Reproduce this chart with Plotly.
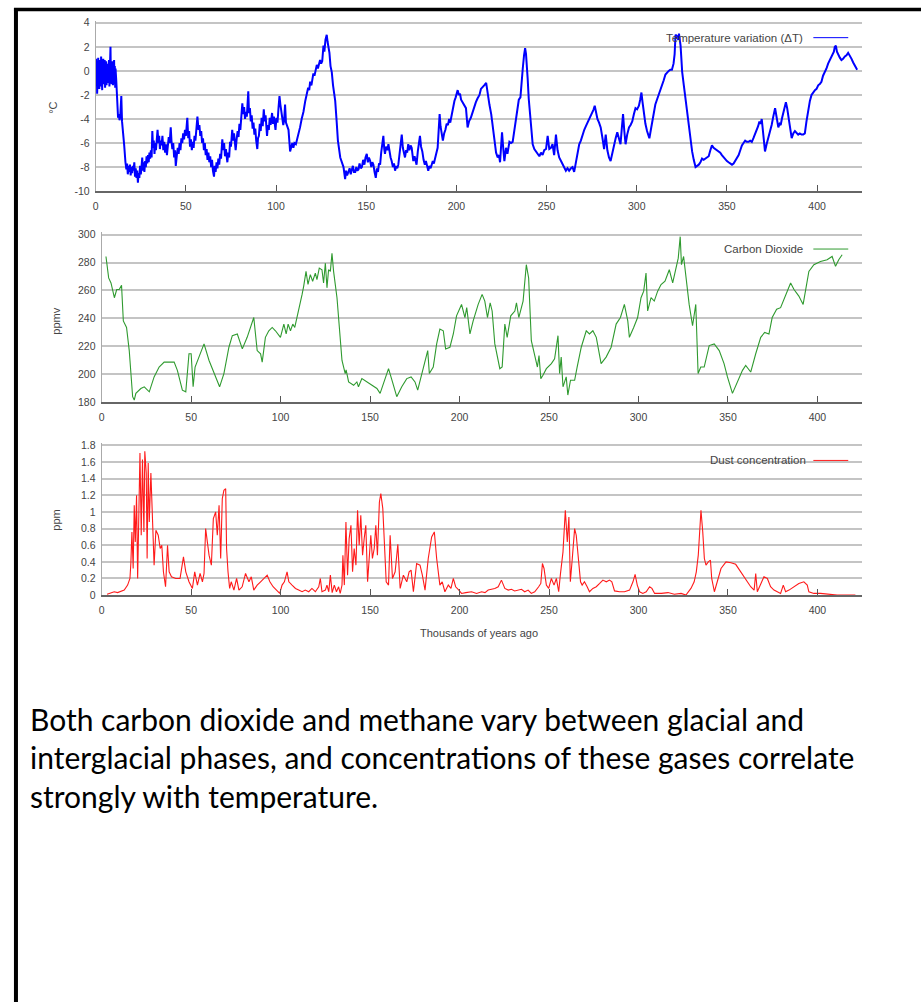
import plotly.graph_objects as go

# ---------------- data ----------------
temp_age = [
    0.0, 0.2, 0.4, 0.6, 0.8, 1.0, 1.2, 1.4, 1.6, 1.8,
    2.0, 2.2, 2.4, 2.6, 2.8, 3.0, 3.2, 3.4, 3.6, 3.8,
    4.0, 4.2, 4.4, 4.6, 4.8, 5.0, 5.2, 5.4, 5.6, 5.8,
    6.0, 6.2, 6.4, 6.6, 6.8, 7.0, 7.2, 7.4, 7.6, 7.8,
    8.0, 8.2, 8.4, 8.6, 8.8, 9.0, 9.2, 9.4, 9.6, 9.8,
    10.0, 10.2, 10.4, 10.6, 10.8, 11.0, 11.4, 12.0, 12.4, 12.8,
    13.2, 13.6, 14.2, 14.6, 15.2, 15.8, 16.5, 17.0, 17.4, 17.8,
    18.2, 18.6, 19.0, 19.4, 19.8, 20.2, 20.6, 21.0, 21.4, 21.8,
    22.2, 22.6, 23.0, 23.4, 23.8, 24.2, 24.6, 25.0, 25.4, 25.8,
    26.2, 26.6, 27.0, 27.4, 27.8, 28.2, 28.6, 29.0, 29.4, 29.8,
    30.2, 30.6, 31.0, 31.4, 31.8, 32.2, 32.6, 33.0, 33.4, 33.8,
    34.3, 34.8, 35.2, 35.6, 36.0, 36.5, 37.0, 37.5, 38.0, 38.5,
    39.0, 39.5, 40.0, 40.5, 41.0, 41.6, 42.0, 42.5, 43.0, 43.5,
    44.0, 44.4, 45.0, 45.5, 46.0, 46.5, 47.0, 47.5, 48.0, 48.5,
    49.0, 49.5, 50.0, 50.8, 51.3, 51.8, 52.3, 52.8, 53.3, 53.8,
    54.3, 54.8, 55.3, 55.8, 56.4, 57.0, 57.5, 58.0, 58.5, 59.0,
    59.5, 60.0, 60.5, 61.0, 61.5, 62.0, 62.5, 63.0, 63.5, 64.0,
    64.5, 65.0, 65.6, 66.0, 66.5, 67.0, 67.5, 68.0, 68.5, 69.0,
    69.5, 70.2, 70.7, 71.2, 71.7, 72.2, 73.0, 73.5, 74.0, 74.5,
    75.0, 75.7, 76.2, 76.7, 77.2, 77.6, 78.2, 78.7, 79.2, 79.7,
    80.2, 80.7, 81.3, 81.8, 82.3, 82.8, 83.3, 83.8, 84.2, 84.6,
    85.0, 85.5, 86.0, 86.5, 87.0, 87.5, 88.0, 88.5, 89.0, 89.6,
    90.0, 90.5, 91.0, 91.5, 92.0, 92.6, 93.2, 93.7, 94.2, 94.6,
    95.0, 95.5, 96.0, 96.5, 97.0, 97.8, 98.3, 98.8, 99.3, 99.7,
    100.2, 100.8, 101.4, 101.9, 102.4, 103.0, 103.4, 104.0, 104.5, 105.0,
    105.5, 106.2, 106.9, 107.8, 108.5, 109.0, 109.6, 110.2, 111.0, 111.5,
    112.4, 113.3, 114.2, 115.2, 116.2, 117.0, 117.8, 118.4, 118.9, 119.6,
    120.2, 120.7, 121.3, 121.8, 122.6, 123.2, 123.8, 124.4, 125.0, 125.6,
    126.3, 126.8, 127.4, 128.1, 128.6, 129.1, 129.6, 130.2, 130.9, 131.6,
    132.8, 133.6, 134.3, 135.6, 136.5, 137.4, 138.3, 138.8, 139.4, 140.2,
    140.8, 141.4, 142.0, 142.6, 143.2, 143.9, 144.5, 145.1, 145.7, 146.3,
    147.0, 147.6, 148.3, 149.0, 149.6, 150.3, 150.9, 151.5, 152.2, 152.8,
    153.4, 154.0, 154.6, 155.3, 155.9, 156.5, 157.1, 157.7, 158.3, 158.9,
    159.5, 160.0, 160.4, 161.0, 161.7, 162.3, 162.9, 163.5, 164.1, 164.8,
    165.4, 166.0, 166.6, 167.2, 167.8, 168.4, 169.0, 169.7, 170.3, 170.9,
    171.5, 172.1, 172.7, 173.3, 173.9, 174.6, 175.2, 175.7, 176.1, 176.8,
    177.4, 177.9, 178.6, 179.2, 179.8, 180.4, 181.1, 181.8, 182.5, 183.1,
    183.8, 184.4, 185.0, 185.7, 186.3, 186.9, 187.5, 188.1, 188.8, 189.6,
    190.2, 190.7, 191.2, 191.8, 192.5, 193.2, 193.9, 194.6, 195.3, 196.0,
    196.6, 197.1, 197.8, 198.3, 198.9, 199.6, 200.2, 200.7, 201.4, 202.0,
    202.6, 203.4, 204.4, 205.3, 206.2, 207.0, 208.0, 209.0, 209.9, 210.8,
    211.7, 212.8, 213.6, 214.5, 215.4, 216.5, 217.4, 218.3, 219.3, 220.2,
    221.1, 222.0, 222.9, 223.6, 224.2, 225.3, 226.0, 226.6, 227.5, 228.3,
    229.4, 230.3, 231.2, 232.2, 233.1, 234.0, 234.6, 235.5, 236.2, 236.8,
    237.5, 238.1, 238.6, 239.0, 239.5, 240.1, 240.8, 241.4, 242.3, 243.2,
    244.2, 245.1, 246.0, 246.9, 247.8, 248.7, 249.7, 250.6, 251.5, 252.4,
    253.3, 254.2, 255.2, 256.1, 257.0, 258.0, 258.9, 259.8, 260.7, 261.6,
    262.5, 263.5, 264.4, 265.3, 266.3, 267.2, 268.1, 269.0, 269.9, 270.9,
    271.8, 272.7, 273.6, 274.6, 275.5, 276.1, 276.7, 277.4, 278.2, 279.1,
    280.0, 281.0, 281.9, 282.4, 282.8, 283.7, 284.6, 285.5, 286.4, 287.4,
    288.3, 289.2, 290.1, 291.0, 291.7, 292.4, 293.1, 293.8, 294.7, 295.7,
    296.6, 297.5, 298.4, 299.3, 300.2, 301.2, 301.9, 302.6, 303.2, 303.9,
    304.8, 305.7, 306.3, 307.0, 307.7, 308.5, 309.4, 310.3, 311.2, 312.2,
    313.1, 314.0, 314.9, 315.9, 316.8, 317.7, 318.6, 319.5, 320.4, 321.0,
    321.5, 322.3, 323.0, 323.4, 324.3, 325.2, 326.1, 327.0, 328.0, 328.9,
    329.8, 330.7, 331.6, 332.6, 333.5, 334.4, 335.3, 336.2, 337.1, 338.0,
    339.0, 339.9, 340.8, 341.7, 342.6, 343.6, 344.5, 345.4, 346.3, 347.2,
    348.2, 349.1, 350.0, 350.9, 351.8, 352.8, 353.7, 354.6, 355.5, 356.5,
    357.4, 358.3, 359.2, 360.1, 361.0, 362.0, 362.9, 363.8, 364.7, 365.6,
    366.5, 367.3, 368.0, 368.7, 369.3, 370.2, 371.1, 372.0, 373.0, 373.9,
    374.8, 375.7, 376.7, 377.6, 378.5, 379.2, 379.8, 380.6, 381.3, 382.0,
    382.7, 383.4, 384.0, 384.9, 385.9, 386.8, 387.7, 388.6, 389.5, 390.4,
    391.4, 392.3, 393.2, 394.1, 395.1, 396.0, 396.9, 397.8, 398.8, 399.7,
    400.6, 401.5, 402.4, 403.3, 404.3, 405.2, 406.1, 407.0, 407.4, 408.3,
    409.3, 409.8, 410.4, 411.0, 411.7, 412.6, 413.5, 414.4, 415.4, 416.3,
    417.2, 418.1, 419.1, 420.0, 420.9, 421.6, 422.2,
]
temp_dT = [
    -0.2, 1.0, -1.2, 0.5, -1.9, 0.3, -0.8, 1.1, -1.0, 0.2,
    -1.5, 0.9, -0.6, 0.4, -1.3, 1.2, -0.9, 0.1, -1.6, 0.7,
    -0.4, 1.0, -1.1, 0.3, -0.8, 0.9, -1.4, 0.2, -0.5, 0.8,
    -1.2, 0.5, -0.9, 0.6, -1.0, 0.4, -0.6, 0.9, -1.3, 0.7,
    -0.2, 2.0, -0.4, 0.6, -1.1, 0.5, -0.7, 0.8, -1.2, 0.3,
    -0.6, 0.9, -0.9, 0.4, -1.4, 0.2, -0.8, -2.3, -3.9, -3.6,
    -4.1, -3.8, -2.1, -4.2, -5.0, -6.2, -7.6, -8.2, -7.7, -8.6,
    -7.9, -8.4, -7.8, -8.7, -8.0, -8.5, -7.9, -8.3, -7.6, -8.8,
    -8.1, -8.9, -8.3, -9.3, -8.5, -8.9, -7.9, -8.6, -8.0, -7.2,
    -8.3, -7.6, -8.4, -7.5, -8.0, -7.1, -7.7, -7.0, -7.6, -6.8,
    -7.3, -6.6, -7.2, -5.0, -6.4, -5.8, -6.9, -6.0, -6.6, -5.6,
    -4.9, -6.0, -5.4, -6.5, -5.8, -6.2, -5.4, -6.6, -5.9, -6.8,
    -6.1, -7.0, -6.3, -5.5, -6.0, -4.7, -5.8, -6.5, -6.0, -7.2,
    -6.6, -7.9, -7.0, -6.4, -6.9, -6.0, -6.6, -5.6, -6.0, -5.2,
    -5.7, -4.9, -5.4, -3.9, -5.6, -5.0, -6.3, -5.7, -6.6, -5.9,
    -6.4, -5.4, -5.8, -4.6, -3.8, -4.9, -4.5, -5.4, -5.0, -6.0,
    -5.6, -6.6, -6.0, -7.0, -6.5, -7.4, -6.8, -7.6, -7.1, -8.0,
    -7.4, -8.3, -8.8, -7.9, -8.4, -7.6, -8.1, -7.3, -7.8, -6.9,
    -7.3, -5.7, -6.6, -6.0, -7.1, -6.5, -7.6, -6.8, -7.2, -5.9,
    -6.3, -4.9, -5.8, -5.2, -6.4, -6.6, -5.6, -5.0, -5.5, -4.4,
    -4.9, -3.8, -2.7, -3.6, -3.0, -4.0, -3.4, -3.8, -3.0, -1.7,
    -3.5, -3.1, -4.2, -3.7, -4.8, -4.3, -5.3, -4.8, -5.8, -6.5,
    -5.6, -5.4, -4.4, -5.0, -3.9, -4.6, -3.2, -4.2, -3.7, -5.0,
    -5.4, -4.5, -4.9, -3.9, -4.5, -3.5, -4.4, -3.8, -4.8, -4.9,
    -3.9, -4.3, -3.0, -2.1, -2.8, -3.6, -4.0, -4.5, -4.1, -2.8,
    -4.3, -4.6, -4.9, -6.7, -6.3, -6.0, -6.4, -6.0, -6.1, -5.8,
    -5.4, -4.7, -4.0, -3.4, -2.5, -1.8, -1.4, -1.6, -0.9, -1.2,
    -0.5, -0.2, -0.4, 0.1, 0.5, 0.2, 0.7, 0.9, 0.6, 0.8,
    2.1, 1.6, 2.6, 3.0, 2.4, 1.9, 1.5, 0.4, -0.1, -1.2,
    -2.5, -4.2, -5.8, -7.2, -7.6, -8.0, -9.0, -8.3, -8.7, -8.4,
    -8.1, -8.6, -8.3, -7.9, -8.4, -8.4, -8.0, -8.3, -8.2, -7.7,
    -8.1, -8.0, -7.4, -7.8, -7.2, -6.9, -7.6, -7.2, -7.5, -8.0,
    -7.6, -7.8, -8.4, -8.9, -8.1, -8.4, -7.7, -7.8, -6.8, -6.2,
    -5.4, -6.5, -6.9, -6.3, -6.6, -6.1, -6.8, -7.2, -7.5, -8.0,
    -7.7, -8.3, -7.9, -8.1, -7.8, -6.9, -6.2, -5.3, -6.4, -6.8,
    -7.2, -6.6, -6.8, -6.1, -6.6, -6.2, -6.4, -7.0, -7.5, -7.1,
    -7.6, -7.8, -6.7, -6.2, -5.4, -6.3, -6.7, -7.4, -7.8, -7.5,
    -8.1, -8.3, -7.9, -8.1, -7.8, -7.5, -7.7, -7.4, -6.9, -6.4,
    -5.0, -3.6, -4.6, -5.2, -5.8, -5.2, -4.9, -4.4, -4.5, -4.0,
    -4.3, -3.9, -3.2, -2.9, -2.5, -2.2, -1.8, -1.6, -2.0, -1.9,
    -2.4, -2.6, -2.9, -3.1, -4.7, -4.2, -3.9, -3.4, -3.1, -2.6,
    -2.3, -2.0, -1.5, -1.3, -1.2, -1.0, -2.0, -2.8, -3.6, -4.8,
    -6.1, -6.8, -7.2, -7.0, -7.6, -5.1, -6.5, -7.5, -6.4, -6.9,
    -5.9, -6.0, -5.9, -4.8, -3.6, -2.8, -2.4, -2.2, -1.2, 0.2,
    1.3, 1.9, 1.4, 0.7, -0.6, -2.3, -3.4, -4.5, -6.1, -6.5,
    -6.7, -6.9, -7.1, -6.8, -7.0, -6.6, -6.5, -5.4, -6.5, -6.4,
    -6.1, -7.0, -5.3, -6.6, -7.2, -7.5, -7.8, -8.0, -8.3, -8.1,
    -8.3, -8.1, -8.0, -8.4, -7.5, -6.8, -6.1, -5.8, -5.3, -4.9,
    -4.6, -4.3, -4.0, -3.7, -3.5, -3.2, -2.9, -3.5, -4.0, -4.3,
    -4.7, -5.6, -6.5, -5.8, -5.3, -6.6, -7.2, -7.5, -6.8, -6.1,
    -5.6, -5.1, -5.6, -6.1, -4.8, -3.6, -5.0, -6.1, -5.3, -4.7,
    -4.5, -4.2, -3.6, -3.1, -3.2, -2.9, -2.4, -1.8, -2.6, -3.6,
    -4.4, -5.0, -5.4, -5.6, -5.0, -4.2, -3.4, -2.8, -2.4, -2.0,
    -1.6, -1.2, -0.8, -0.3, -0.1, 0.0, 0.1, 0.1, 0.6, 1.4,
    3.0, 2.9, 2.6, 3.1, 2.1, -0.1, -1.2, -2.3, -3.5, -4.7,
    -5.8, -6.7, -7.4, -8.0, -7.9, -7.8, -7.6, -7.3, -7.4, -7.3,
    -7.2, -7.1, -6.6, -6.2, -6.4, -6.5, -6.6, -6.7, -6.8, -7.0,
    -7.2, -7.3, -7.5, -7.6, -7.7, -7.8, -7.7, -7.5, -7.3, -7.0,
    -6.6, -6.2, -6.0, -5.8, -5.9, -5.9, -5.8, -5.9, -5.6, -5.3,
    -5.0, -4.6, -4.2, -4.4, -4.0, -5.4, -6.7, -6.1, -5.6, -5.0,
    -4.5, -3.8, -3.1, -3.9, -4.7, -4.4, -4.5, -3.9, -3.4, -3.0,
    -2.6, -3.1, -3.6, -4.6, -5.6, -5.2, -5.0, -5.2, -5.3, -5.2,
    -5.3, -5.3, -5.2, -4.2, -3.1, -2.5, -2.0, -1.8, -1.6, -1.5,
    -1.2, -1.1, -0.9, -0.4, -0.1, 0.2, 0.6, 0.9, 1.0, 1.3,
    1.6, 2.0, 2.1, 1.6, 1.3, 1.1, 0.9, 1.0, 1.2, 1.3,
    1.5, 1.3, 1.0, 0.7, 0.4, 0.2, 0.1,
]

co2_age = [
    2.4, 3.9, 5.2, 7.1, 8.4, 9.8, 11.1, 12.1, 13.9, 15.4,
    17.3, 18.2, 19.1, 21.9, 23.8, 26.6, 29.3, 32.1, 34.9, 37.7,
    40.5, 42.3, 45.1, 47.0, 48.8, 50.0, 51.1, 52.2, 54.4, 57.2,
    60.0, 63.7, 65.9, 68.3, 71.1, 73.0, 75.8, 78.6, 81.3, 85.0,
    86.9, 88.8, 89.7, 91.5, 93.4, 95.3, 97.1, 99.9, 101.8, 103.1,
    104.2, 105.5, 106.8, 107.9, 110.1, 112.0, 112.9, 114.2, 115.3, 116.6,
    117.9, 119.4, 120.3, 121.6, 123.1, 124.0, 125.0, 125.9, 126.8, 127.8,
    128.7, 129.6, 131.5, 133.3, 134.3, 136.1, 136.6, 138.0, 140.8, 142.6,
    143.5, 145.4, 148.2, 151.0, 153.8, 155.6, 158.0, 160.3, 162.5, 164.9,
    167.7, 170.5, 172.9, 175.1, 176.6, 178.8, 180.7, 182.2, 183.1, 185.3,
    187.2, 189.0, 190.9, 192.2, 194.6, 196.5, 198.3, 201.1, 203.0, 204.0,
    205.8, 207.6, 210.4, 212.6, 214.1, 215.6, 217.1, 218.2, 219.7, 221.2,
    222.5, 223.8, 225.3, 226.6, 228.6, 230.9, 231.8, 233.1, 234.2, 235.5,
    237.3, 238.6, 240.1, 242.0, 243.5, 244.4, 245.4, 246.6, 248.5, 251.3,
    253.1, 255.0, 255.9, 256.8, 257.8, 259.6, 260.5, 262.0, 264.3, 265.7,
    268.0, 270.8, 272.6, 274.5, 276.4, 279.1, 281.9, 284.7, 287.5, 289.9,
    292.1, 294.0, 294.9, 297.3, 299.5, 301.4, 302.9, 304.2, 305.1, 307.0,
    308.8, 310.7, 312.6, 314.8, 317.2, 319.1, 320.9, 322.2, 323.3, 324.0,
    325.2, 326.4, 328.3, 330.2, 332.0, 333.3, 334.8, 336.7, 339.5, 342.3,
    345.1, 347.8, 349.7, 352.5, 355.3, 358.1, 359.9, 362.7, 365.5, 368.3,
    370.5, 372.9, 374.7, 377.2, 379.4, 382.2, 385.0, 386.9, 389.6, 392.0,
    393.4, 395.2, 398.0, 401.7, 405.4, 408.2, 410.1, 411.9, 413.8,
]
co2_ppmv = [
    284.4, 269.0, 265.4, 254.8, 260.7, 260.7, 263.8, 238.2, 233.5, 216.9,
    183.8, 181.4, 186.2, 189.7, 190.9, 187.3, 198.0, 205.1, 208.6, 208.6,
    208.6, 202.7, 188.5, 187.3, 214.6, 214.6, 190.9, 205.1, 212.2, 221.7,
    209.8, 198.0, 190.9, 200.4, 219.3, 227.6, 228.8, 218.1, 226.4, 240.6,
    216.9, 214.6, 208.6, 226.4, 231.1, 233.5, 231.1, 226.4, 235.9, 228.8,
    235.9, 231.1, 235.9, 233.5, 245.3, 257.2, 263.1, 273.7, 264.3, 271.4,
    266.6, 272.5, 267.8, 276.1, 274.9, 265.4, 279.6, 261.9, 274.9, 273.7,
    286.7, 273.7, 254.8, 228.8, 209.8, 200.4, 203.0, 194.4, 192.0, 194.4,
    190.9, 196.8, 194.4, 192.0, 189.7, 186.2, 195.6, 203.9, 194.4, 183.8,
    190.9, 196.8, 198.0, 194.4, 188.5, 200.4, 209.8, 216.9, 200.4, 205.1,
    221.7, 232.3, 231.1, 218.1, 219.3, 228.8, 241.8, 250.0, 240.6, 247.7,
    228.8, 238.2, 250.0, 257.2, 252.4, 240.6, 251.2, 245.3, 221.7, 212.2,
    203.9, 205.1, 235.9, 226.4, 241.8, 245.3, 251.2, 240.6, 245.3, 252.4,
    278.5, 269.0, 224.0, 214.6, 205.1, 213.4, 196.8, 199.2, 203.9, 207.5,
    211.0, 227.6, 200.4, 212.2, 190.9, 198.0, 185.0, 195.6, 195.6, 205.1,
    219.3, 231.1, 228.8, 231.1, 226.4, 207.5, 212.2, 219.3, 235.9, 240.6,
    250.0, 238.2, 226.4, 233.5, 240.6, 254.8, 259.5, 272.5, 245.3, 254.8,
    252.4, 259.5, 264.3, 266.6, 274.9, 265.4, 276.1, 283.2, 298.6, 278.5,
    284.4, 271.4, 250.0, 234.7, 250.0, 200.4, 205.1, 205.1, 220.5, 221.7,
    216.9, 207.5, 198.0, 186.2, 194.4, 202.7, 206.3, 201.5, 214.6, 226.4,
    229.9, 228.8, 240.6, 246.5, 247.7, 257.2, 265.4, 260.7, 256.0, 250.0,
    259.5, 273.7, 278.5, 280.8, 282.0, 284.4, 277.3, 282.0, 285.6,
]

dust_age = [
    3.0, 4.3, 7.0, 8.9, 10.8, 12.6, 14.5, 15.8, 16.3, 16.9,
    17.6, 18.2, 18.8, 19.5, 20.1, 20.6, 21.4, 22.1, 22.8, 23.6,
    24.1, 24.9, 25.4, 26.0, 26.6, 27.5, 28.4, 29.3, 30.3, 31.6,
    32.7, 33.6, 34.5, 35.7, 36.8, 37.7, 39.0, 41.4, 43.8, 45.7,
    47.0, 48.8, 50.7, 52.0, 53.5, 55.0, 56.3, 57.2, 58.1, 59.1,
    60.0, 61.3, 62.4, 63.7, 64.6, 65.6, 66.5, 67.4, 68.3, 69.3,
    69.8, 70.6, 71.5, 72.4, 73.9, 75.4, 76.7, 78.5, 80.4, 82.3,
    83.6, 85.0, 86.9, 88.8, 90.6, 92.5, 94.0, 95.8, 97.7, 99.5,
    100.8, 102.1, 103.6, 104.6, 106.4, 108.3, 110.1, 112.0, 113.8, 115.7,
    117.5, 119.4, 121.3, 122.2, 123.1, 125.0, 125.9, 126.9, 127.8, 128.8,
    130.0, 131.2, 132.4, 133.3, 134.3, 134.8, 135.6, 136.5, 137.4, 138.3,
    139.3, 140.2, 141.1, 142.1, 143.0, 143.9, 144.8, 145.8, 146.7, 147.6,
    148.6, 149.5, 150.4, 151.3, 152.3, 153.2, 154.1, 155.2, 156.0, 157.1,
    157.8, 159.0, 160.3, 161.2, 162.5, 164.0, 165.5, 166.8, 168.6, 170.5,
    171.8, 172.9, 174.2, 176.0, 177.9, 179.2, 180.7, 182.5, 184.4, 185.9,
    187.2, 189.0, 190.3, 191.8, 193.7, 195.2, 196.5, 197.8, 199.6, 201.1,
    203.5, 206.7, 209.5, 212.3, 214.2, 216.0, 219.7, 221.6, 223.4, 225.3,
    227.2, 229.0, 230.8, 232.7, 234.6, 236.4, 238.3, 240.1, 242.0, 244.2,
    245.4, 246.3, 247.2, 248.5, 249.8, 251.3, 252.8, 254.1, 255.4, 256.3,
    257.8, 259.1, 260.2, 261.1, 261.9, 263.0, 264.3, 265.2, 266.5, 267.6,
    268.5, 269.8, 271.3, 272.6, 274.5, 276.4, 278.3, 280.1, 282.0, 283.8,
    285.1, 286.6, 289.4, 292.2, 295.0, 296.9, 298.1, 299.3, 300.6, 302.4,
    304.3, 306.2, 307.5, 309.0, 312.8, 316.5, 320.0, 323.8, 326.5, 329.3,
    331.1, 332.3, 333.4, 334.4, 334.9, 335.9, 336.8, 337.7, 339.0, 340.2,
    340.9, 342.4, 344.3, 346.1, 348.9, 351.7, 354.3, 357.1, 359.9, 362.7,
    364.6, 365.5, 366.4, 368.2, 370.1, 372.0, 373.8, 375.7, 377.6, 379.4,
    380.9, 382.2, 384.1, 386.9, 389.6, 392.4, 394.3, 395.2, 398.0, 401.7,
    405.4, 411.0, 416.5, 421.2,
]
dust_ppm = [
    0.01, 0.02, 0.04, 0.03, 0.05, 0.06, 0.12, 0.20, 0.38, 0.76,
    0.32, 1.08, 0.64, 1.20, 0.20, 0.96, 1.71, 0.72, 1.63, 0.76,
    1.73, 1.47, 0.44, 1.59, 0.88, 1.47, 0.84, 0.36, 0.78, 0.72,
    0.56, 0.60, 0.28, 0.10, 0.60, 0.28, 0.22, 0.20, 0.20, 0.46,
    0.28, 0.16, 0.08, 0.28, 0.12, 0.26, 0.16, 0.26, 0.80, 0.60,
    0.48, 0.36, 0.92, 1.00, 0.72, 1.08, 0.44, 1.16, 1.26, 1.28,
    0.56, 0.28, 0.08, 0.16, 0.06, 0.20, 0.06, 0.10, 0.26, 0.16,
    0.22, 0.06, 0.12, 0.16, 0.20, 0.24, 0.16, 0.10, 0.06, 0.02,
    0.12, 0.16, 0.28, 0.16, 0.12, 0.08, 0.06, 0.04, 0.06, 0.04,
    0.08, 0.04, 0.10, 0.20, 0.04, 0.06, 0.12, 0.04, 0.24, 0.03,
    0.12, 0.04, 0.10, 0.02, 0.12, 0.48, 0.12, 0.88, 0.24, 0.68,
    0.84, 0.28, 0.56, 0.36, 1.02, 0.60, 0.96, 0.48, 0.68, 0.84,
    0.16, 0.52, 0.72, 0.44, 0.56, 0.84, 0.48, 1.12, 1.22, 1.04,
    0.68, 0.16, 0.12, 0.72, 0.20, 0.28, 0.61, 0.08, 0.24, 0.16,
    0.28, 0.30, 0.04, 0.38, 0.36, 0.24, 0.06, 0.44, 0.70, 0.76,
    0.44, 0.12, 0.16, 0.04, 0.12, 0.08, 0.20, 0.10, 0.06, 0.02,
    0.03, 0.04, 0.02, 0.04, 0.03, 0.06, 0.08, 0.10, 0.18, 0.08,
    0.06, 0.07, 0.05, 0.06, 0.07, 0.04, 0.06, 0.02, 0.04, 0.10,
    0.14, 0.38, 0.32, 0.12, 0.08, 0.20, 0.12, 0.20, 0.04, 0.24,
    0.52, 1.02, 0.64, 0.94, 0.16, 0.44, 0.80, 0.72, 0.44, 0.16,
    0.12, 0.16, 0.10, 0.04, 0.08, 0.10, 0.14, 0.18, 0.16, 0.18,
    0.16, 0.05, 0.04, 0.04, 0.06, 0.16, 0.25, 0.12, 0.04, 0.02,
    0.04, 0.10, 0.08, 0.02, 0.02, 0.03, 0.01, 0.02, 0.00, 0.08,
    0.16, 0.28, 0.48, 0.80, 1.02, 0.76, 0.44, 0.36, 0.40, 0.42,
    0.20, 0.04, 0.20, 0.32, 0.40, 0.39, 0.37, 0.28, 0.18, 0.10,
    0.06, 0.26, 0.04, 0.12, 0.22, 0.20, 0.10, 0.06, 0.04, 0.02,
    0.12, 0.04, 0.06, 0.10, 0.14, 0.16, 0.12, 0.04, 0.02, 0.02,
    0.01, 0.00, 0.00, 0.00,
]

x_tick_vals = [0, 50, 100, 150, 200, 250, 300, 350, 400]
x_tick_text = ["0", "50", "100", "150", "200", "250", "300", "350", "400"]
temp_tick_vals = [-10, -8, -6, -4, -2, 0, 2, 4]
temp_tick_text = ["-10", "-8", "-6", "-4", "-2", "0", "2", "4"]
co2_tick_vals = [180, 200, 220, 240, 260, 280, 300]
co2_tick_text = ["180", "200", "220", "240", "260", "280", "300"]
dust_tick_vals = [0, 0.2, 0.4, 0.6, 0.8, 1.0, 1.2, 1.4, 1.6, 1.8]
dust_tick_text = ["0", "0.2", "0.4", "0.6", "0.8", "1", "1.2", "1.4", "1.6", "1.8"]

caption_lines = [
    "Both carbon dioxide and methane vary between glacial and",
    "interglacial phases, and concentrations of these gases correlate",
    "strongly with temperature.",
]

assert len(temp_age) == len(temp_dT), (len(temp_age), len(temp_dT))
assert len(co2_age) == len(co2_ppmv), (len(co2_age), len(co2_ppmv))
assert len(dust_age) == len(dust_ppm), (len(dust_age), len(dust_ppm))

# ---------------- layout helpers ----------------
W, H = 921, 1008
def fx(px):
    return px / W
def fy(py):
    return 1 - py / H

BLUE, GREEN, RED = "#0000ff", "#2f9a2f", "#ff1a1a"
TICK_FONT = dict(family="Liberation Sans, Arial, sans-serif", size=10.5, color="#444")
GRID = "#c4c4c4"

fig = go.Figure()
fig.add_trace(go.Scatter(x=temp_age, y=temp_dT, mode="lines", name="Temperature variation (ΔT)",
                         line=dict(color=BLUE, width=2), xaxis="x", yaxis="y"))
fig.add_trace(go.Scatter(x=co2_age, y=co2_ppmv, mode="lines", name="Carbon Dioxide",
                         line=dict(color=GREEN, width=1.1), xaxis="x2", yaxis="y2"))
fig.add_trace(go.Scatter(x=dust_age, y=dust_ppm, mode="lines", name="Dust concentration",
                         line=dict(color=RED, width=1.1), xaxis="x3", yaxis="y3"))

def xaxis(left, anchor):
    return dict(domain=[fx(left), fx(862)], range=[0, 425], anchor=anchor,
                tickmode="array", tickvals=x_tick_vals, ticktext=x_tick_text,
                ticks="inside", ticklen=6, tickwidth=1.2, tickcolor="#555",
                showline=True, linecolor="#666", linewidth=2,
                showgrid=False, zeroline=False, tickfont=TICK_FONT,
                ticklabelstandoff=4, fixedrange=True)

def yaxis(top, bottom, rng, vals, text, anchor):
    return dict(domain=[fy(bottom), fy(top)], range=rng, anchor=anchor,
                tickmode="array", tickvals=vals, ticktext=text,
                ticks="", showline=True, linecolor="#aaa", linewidth=1,
                showgrid=True, gridcolor=GRID, gridwidth=1.5,
                zeroline=False, tickfont=TICK_FONT, ticklabelstandoff=3,
                fixedrange=True)

# small headroom above the top tick so its grid line is kept
fig.update_layout(
    width=W, height=H, margin=dict(l=0, r=0, t=0, b=0),
    paper_bgcolor="white", plot_bgcolor="white", showlegend=False,
    xaxis=xaxis(93, "y"),
    yaxis=yaxis(16.8, 189, [-10, 4.18], temp_tick_vals, temp_tick_text, "x"),
    xaxis2=xaxis(99, "y2"),
    yaxis2=yaxis(230.5, 402, [180, 301.8], co2_tick_vals, co2_tick_text, "x2"),
    xaxis3=xaxis(99, "y3"),
    yaxis3=yaxis(443.8, 597, [0, 1.825], dust_tick_vals, dust_tick_text, "x3"),
)

small = dict(family="Liberation Sans, Arial, sans-serif", size=11, color="#444")
ann = []
# axis titles
ann.append(dict(text="°C", x=fx(50), y=fy(105), textangle=-90, font=small))
ann.append(dict(text="ppmv", x=fx(53), y=fy(320), textangle=-90, font=small))
ann.append(dict(text="ppm", x=fx(53), y=fy(521), textangle=-90, font=small))
ann.append(dict(text="Thousands of years ago", x=fx(478), y=fy(635), font=small))
# key texts
key_font = dict(family="Liberation Sans, Arial, sans-serif", size=11.5, color="#444")
ann.append(dict(text="Temperature variation (ΔT)", x=fx(805), y=fy(34), xanchor="right", font=key_font))
ann.append(dict(text="Carbon Dioxide", x=fx(805), y=fy(247.5), xanchor="right", font=key_font))
ann.append(dict(text="Dust concentration", x=fx(808), y=fy(461), xanchor="right", font=key_font))
# caption
cap_font = dict(family="Lato, Open Sans, sans-serif", size=30, color="black")
for line, py in zip(caption_lines, [722, 761, 800]):
    ann.append(dict(text=line, x=fx(25), y=fy(py), xanchor="left", font=cap_font))
for a in ann:
    a.setdefault("xanchor", "center")
    a.update(xref="paper", yref="paper", yanchor="middle", showarrow=False)
fig.update_layout(annotations=ann)

shapes = [
    # white key box in dust panel (hides grid line)
    dict(type="rect", xref="paper", yref="paper", x0=fx(680), x1=fx(855), y0=fy(471), y1=fy(453),
         fillcolor="white", line=dict(width=0), layer="between"),
    # key samples
    dict(type="line", xref="paper", yref="paper", x0=fx(813), x1=fx(848), y0=fy(34), y1=fy(34),
         line=dict(color=BLUE, width=1), layer="above"),
    dict(type="line", xref="paper", yref="paper", x0=fx(813), x1=fx(848), y0=fy(247.5), y1=fy(247.5),
         line=dict(color=GREEN, width=1), layer="above"),
    dict(type="line", xref="paper", yref="paper", x0=fx(813), x1=fx(848), y0=fy(461), y1=fy(461),
         line=dict(color=RED, width=1), layer="above"),
    # page frame (top and left)
    dict(type="line", xref="paper", yref="paper", x0=fx(11), x1=1, y0=fy(5.5), y1=fy(5.5),
         line=dict(color="black", width=3.5), layer="above"),
    dict(type="line", xref="paper", yref="paper", x0=fx(13), x1=fx(13), y0=0, y1=fy(4),
         line=dict(color="black", width=4), layer="above"),
]
fig.update_layout(shapes=shapes)

fig.write_html("out.html")
